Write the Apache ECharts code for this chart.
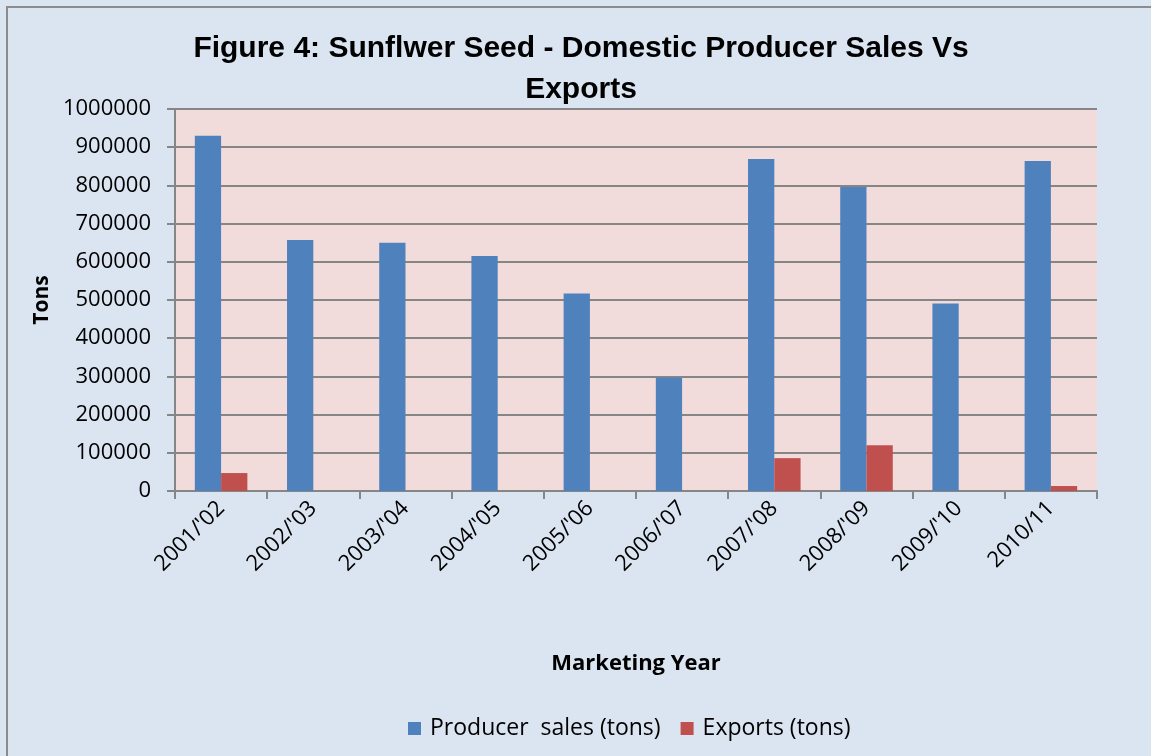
<!DOCTYPE html>
<html>
<head>
<meta charset="utf-8">
<script src="https://cdn.jsdelivr.net/npm/echarts@6/dist/echarts.min.js"></script>
<style>
  html, body { margin: 0; padding: 0; background: #dbe5f1; }
  #chart { width: 1151px; height: 756px; }
</style>
</head>
<body>
<div id="chart"></div>
<script>
var years = ["2001/'02", "2002/'03", "2003/'04", "2004/'05", "2005/'06",
             "2006/'07", "2007/'08", "2008/'09", "2009/'10", "2010/11"];
var producerSales = [930000, 657000, 650000, 615000, 517000, 297000, 869000, 796000, 491000, 864000];
var exportsTons = [47000, 0, 0, 0, 0, 0, 86000, 120000, 0, 13000];

var myChart = echarts.init(document.getElementById('chart'));
var labelFont = '"Open Sans", "Noto Sans", sans-serif';

var option = {
    backgroundColor: '#dbe5f1',
    color: ['#4f81bd', '#c0504d'],
    title: {
        text: 'Figure 4: Sunflwer Seed - Domestic Producer Sales Vs\nExports',
        left: 576,
        textAlign: 'center',
        top: 23,
        textStyle: {
            fontFamily: '"Liberation Sans", sans-serif',
            fontSize: 30,
            fontWeight: 'bold',
            color: '#000',
            lineHeight: 41
        }
    },
    graphic: [{
        type: 'rect',
        shape: {x: 7, y: 7, width: 1200, height: 800},
        style: {fill: null, stroke: '#8c8c8c', lineWidth: 2},
        silent: true
    }],
    legend: {
        data: [
            {name: 'Producer  sales (tons)', icon: 'rect'},
            {name: 'Exports (tons)', icon: 'rect'}],
        left: 403,
        top: 712,
        itemWidth: 13,
        itemHeight: 13,
        itemGap: 20,
        textStyle: {
            fontFamily: labelFont,
            fontSize: 23,
            color: '#000',
            padding: [0, 0, 0, 4]
        }
    },
    grid: {
        left: 175,
        right: 54,
        top: 109,
        bottom: 265,
        show: true,
        backgroundColor: '#f2dcdb',
        borderWidth: 0
    },
    xAxis: {
        type: 'category',
        data: years,
        name: 'Marketing Year',
        nameLocation: 'middle',
        nameGap: 162,
        nameTextStyle: {
            fontFamily: labelFont,
            fontSize: 22,
            fontWeight: 'bold',
            color: '#000'
        },
        axisLine: {lineStyle: {color: '#868686', width: 2}},
        axisTick: {show: true, length: 8, lineStyle: {color: '#868686', width: 2}},
        axisLabel: {
            rotate: 45,
            margin: 14,
            fontFamily: labelFont,
            fontSize: 22,
            color: '#000'
        }
    },
    yAxis: {
        type: 'value',
        min: 0,
        max: 1000000,
        interval: 100000,
        name: 'Tons',
        nameLocation: 'middle',
        nameGap: 120,
        nameTextStyle: {
            fontFamily: labelFont,
            fontSize: 21,
            fontWeight: 'bold',
            color: '#000'
        },
        axisLine: {show: true, lineStyle: {color: '#868686', width: 2}},
        axisTick: {show: true, length: 8, lineStyle: {color: '#868686', width: 2}},
        splitLine: {lineStyle: {color: '#868686', width: 2}},
        axisLabel: {
            margin: 24,
            fontFamily: labelFont,
            fontSize: 22,
            color: '#000',
            formatter: function (v) { return String(v); }
        }
    },
    series: [
        {
            name: 'Producer  sales (tons)',
            type: 'bar',
            barGap: '0%',
            barCategoryGap: '43%',
            data: producerSales
        },
        {
            name: 'Exports (tons)',
            type: 'bar',
            data: exportsTons
        }
    ]
};

myChart.setOption(option);
</script>
</body>
</html>
